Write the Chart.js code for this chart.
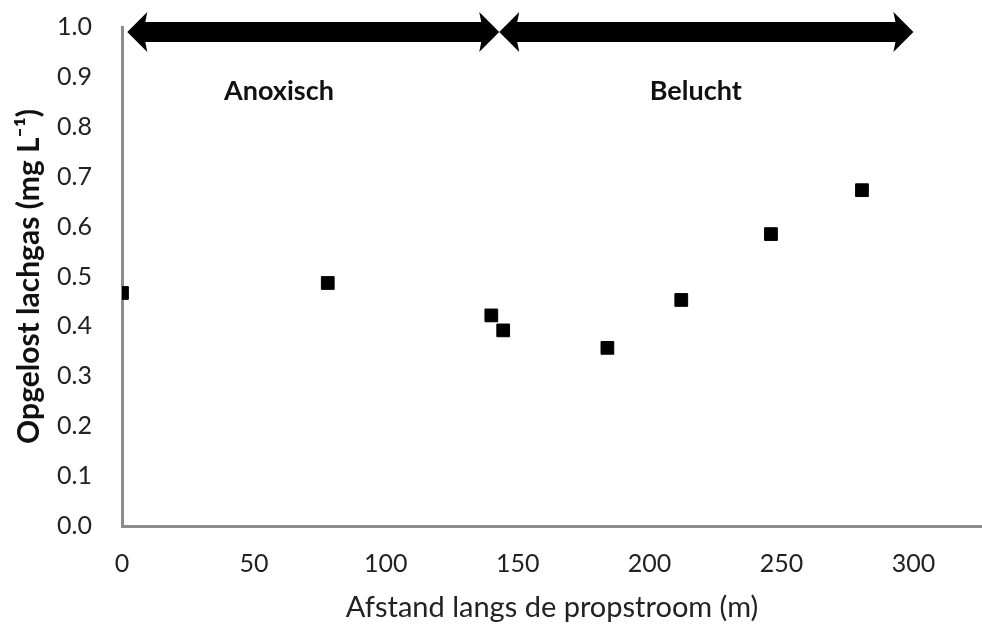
<!DOCTYPE html>
<html>
<head>
<meta charset="utf-8">
<script src="https://cdn.jsdelivr.net/npm/chart.js@4"></script>
<style>
  html, body { margin: 0; padding: 0; background: #fff; overflow: hidden; }
  #wrap { width: 992px; height: 625px; }
</style>
</head>
<body>
<div id="wrap"><canvas id="n2oChart"></canvas></div>
<script>
// distance along the plug flow (m) and dissolved N2O (mg/L)
const distances = [0, 78, 140, 144.5, 184, 212, 246, 280.5];
const n2oValues = [0.467, 0.487, 0.422, 0.392, 0.357, 0.453, 0.585, 0.673];

const yTicks = [0, 0.1, 0.2, 0.3, 0.4, 0.5, 0.6, 0.7, 0.8, 0.9, 1.0];

// zone arrows along the top (x from / to, in metres) and their labels
const zoneNames = ['Anoxisch', 'Belucht'];
const zoneFrom = [2, 143];
const zoneTo = [143, 300];
const zoneArrowLevel = 0.99;
const zoneLabelX = [59.5, 217.5];
const zoneLabelLevel = 0.871;

const fontFamily = 'Lato, "Open Sans", sans-serif';
const axisGrey = '#8c8c8c';

const zonePlugin = {
  id: 'zones',
  afterDatasetsDraw(chart) {
    const ctx = chart.ctx;
    const x = chart.scales.x;
    const y = chart.scales.y;
    const yc = y.getPixelForValue(zoneArrowLevel);
    const shaft = 10;   // half thickness
    const head = 20;    // half height of head
    const headLen = 20;

    ctx.save();
    for (let i = 0; i < zoneNames.length; i++) {
      const x1 = x.getPixelForValue(zoneFrom[i]);
      const x2 = x.getPixelForValue(zoneTo[i]);
      ctx.fillStyle = '#000';
      ctx.beginPath();
      ctx.moveTo(x1, yc);
      ctx.lineTo(x1 + headLen, yc - head);
      ctx.lineTo(x1 + headLen - 2, yc - shaft);
      ctx.lineTo(x2 - headLen + 2, yc - shaft);
      ctx.lineTo(x2 - headLen, yc - head);
      ctx.lineTo(x2, yc);
      ctx.lineTo(x2 - headLen, yc + head);
      ctx.lineTo(x2 - headLen + 2, yc + shaft);
      ctx.lineTo(x1 + headLen - 2, yc + shaft);
      ctx.lineTo(x1 + headLen, yc + head);
      ctx.closePath();
      ctx.fill();

      ctx.font = 'bold 27px ' + fontFamily;
      ctx.textAlign = 'center';
      ctx.textBaseline = 'middle';
      ctx.fillStyle = '#111';
      ctx.fillText(zoneNames[i], x.getPixelForValue(zoneLabelX[i]), y.getPixelForValue(zoneLabelLevel));
    }
    ctx.restore();
  }
};

const ctx = document.getElementById('n2oChart').getContext('2d');
new Chart(ctx, {
  type: 'scatter',
  data: {
    datasets: [
      {
        label: 'Opgelost lachgas',
        data: distances.map((d, i) => ({ x: d, y: n2oValues[i] })),
        backgroundColor: '#000',
        borderColor: '#000',
        pointStyle: 'rect',
        pointRadius: 9,
        pointHoverRadius: 9
      }
    ]
  },
  options: {
    responsive: true,
    maintainAspectRatio: false,
    animation: false,
    layout: { padding: { top: 27, right: 0, left: 0, bottom: 0 } },
    plugins: {
      legend: { display: false },
      tooltip: { enabled: false }
    },
    scales: {
      x: {
        type: 'linear',
        min: 0,
        max: 326,
        grid: { display: false, drawTicks: true, tickLength: 8, tickColor: axisGrey, tickWidth: 3 },
        border: { color: axisGrey, width: 3 },
        ticks: {
          stepSize: 50,
          includeBounds: false,
          padding: 15,
          color: '#222',
          font: { family: fontFamily, size: 25 }
        },
        title: {
          display: true,
          text: 'Afstand langs de propstroom (m)',
          color: '#222',
          font: { family: fontFamily, size: 29 },
          padding: { top: 0, bottom: 0 }
        },
        afterFit(scale) {
          scale.height = 99;
          scale.paddingLeft = 0;
          scale.paddingRight = 0;
        }
      },
      y: {
        min: 0,
        max: 1,
        grid: { display: false, drawTicks: true, tickLength: 8, tickColor: axisGrey, tickWidth: 3 },
        border: { color: axisGrey, width: 3 },
        afterBuildTicks(scale) { scale.ticks = yTicks.map(v => ({ value: v })); },
        ticks: {
          padding: 22,
          color: '#222',
          font: { family: fontFamily, size: 25 },
          callback: v => v.toFixed(1)
        },
        title: {
          display: true,
          text: 'Opgelost lachgas (mg L⁻¹)',
          color: '#111',
          font: { family: fontFamily, size: 30, weight: 'bold' },
          padding: { top: 11, bottom: 0 }
        },
        afterFit(scale) {
          scale.width = 122;
          scale.paddingTop = 0;
          scale.paddingBottom = 0;
        }
      }
    }
  },
  plugins: [zonePlugin]
});
</script>
</body>
</html>
